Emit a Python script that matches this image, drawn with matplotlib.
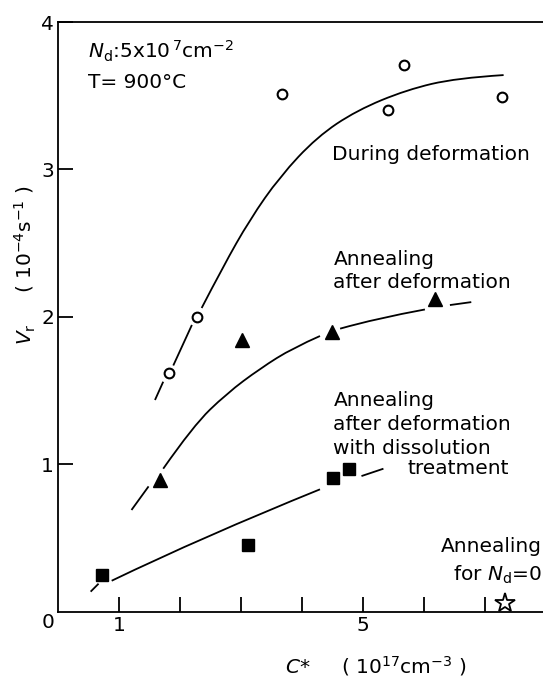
import matplotlib.pyplot as plt
import numpy as np
from matplotlib.path import Path
from matplotlib.patches import PathPatch

nan = np.nan

# measured points
def_x = [1.82, 2.27, 3.66, 5.41, 5.66, 7.28]
def_y = [1.62, 2.00, 3.51, 3.40, 3.71, 3.49]

ann_x = [1.67, 3.01, 4.48, 6.18]
ann_y = [0.89, 1.84, 1.90, 2.12]

dis_x = [0.72, 3.11, 4.51, 4.77]
dis_y = [0.25, 0.45, 0.91, 0.97]

nd0_x = [7.33]
nd0_y = [0.06]

# hand drawn guide curves (nan = break in the line near a symbol)
def_cx = [1.585, 1.72, nan, 1.885, 2.19, nan, 2.35, 2.70, 3.14, 3.63, 4.24, 4.89, 5.71, 6.53, 7.30]
def_cy = [1.436, 1.56, nan, 1.67, 1.945, nan, 2.06, 2.34, 2.66, 2.95, 3.22, 3.40, 3.54, 3.62, 3.64]

ann_cx = [1.20, 1.48, nan, 1.72, 2.21, 2.76, 3.31, 3.85, 4.29, nan, 4.62, 5.22, 6.01, nan, 6.42, 6.77]
ann_cy = [0.69, 0.85, nan, 0.97, 1.26, 1.48, 1.65, 1.79, 1.87, nan, 1.92, 1.99, 2.05, nan, 2.08, 2.10]

dis_cx = [0.53, 0.66, nan, 0.875, 2.38, 4.29, nan, 4.97, 5.33]
dis_cy = [0.136, 0.19, nan, 0.21, 0.51, 0.83, nan, 0.92, 0.97]


def smooth_curve(ax, xs, ys, lw):
    # split at nan, draw every piece as a quadratic bezier path
    pts = np.column_stack([xs, ys])
    pieces = np.split(pts, np.where(np.isnan(pts[:, 0]))[0])
    for p in pieces:
        p = p[~np.isnan(p[:, 0])]
        if len(p) < 3:
            verts = list(p)
            codes = [Path.MOVETO] + [Path.LINETO] * (len(p) - 1)
        else:
            verts = [p[0]]
            codes = [Path.MOVETO]
            for i in range(1, len(p) - 1):
                end = p[i + 1] if i == len(p) - 2 else (p[i] + p[i + 1]) / 2
                verts += [p[i], end]
                codes += [Path.CURVE3, Path.CURVE3]
        ax.add_patch(PathPatch(Path(verts, codes), fill=False, lw=lw,
                               edgecolor="black", capstyle="butt", zorder=1))


plt.rcParams['font.family'] = 'DejaVu Sans'
fs = 14.5

fig = plt.figure(figsize=(5.43, 6.77), dpi=100)
ax = fig.add_axes([58.3 / 543, 1 - 611.7 / 677, 1 - 58.3 / 543, (611.7 - 22) / 677])

lw = 1.3
smooth_curve(ax, def_cx, def_cy, lw)
smooth_curve(ax, ann_cx, ann_cy, lw)
smooth_curve(ax, dis_cx, dis_cy, lw)

ax.plot(def_x, def_y, "o", ms=7, mfc="white", mec="black", mew=1.5, zorder=3)
ax.plot(ann_x, ann_y, "^", ms=10, color="black", zorder=3)
ax.plot(dis_x, dis_y, "s", ms=8, color="black", zorder=3)
ax.plot(nd0_x, nd0_y, "*", ms=15, mfc="white", mec="black", mew=1.3, zorder=3, clip_on=False)

ax.set_xlim(0, (543 - 58.3) / 61.0)
ax.set_ylim(0, 4)
ax.spines["right"].set_visible(False)
for s in ["left", "bottom", "top"]:
    ax.spines[s].set_linewidth(1.3)

ax.set_xticks([1, 2, 3, 4, 5, 6, 7])
ax.set_xticklabels(["1", "", "", "", "5", "", ""])
ax.set_yticks([1, 2, 3, 4])
ax.set_yticklabels(["1", "2", "3", "4"])
ax.tick_params(direction="in", length=11, width=1.3, labelsize=fs, pad=3)
ax.tick_params(axis="y", right=False)

ax.text(-0.17, -0.075, "0", fontsize=fs, ha="center", va="center")

ax.text(0.49, 3.80, r"$N_\mathrm{d}$:5x10$^{\,7}$cm$^{-2}$", fontsize=fs, va="center")
ax.text(0.49, 3.59, "T= 900°C", fontsize=fs, va="center")
ax.text(4.49, 3.10, "During deformation", fontsize=fs, va="center")
ax.text(4.51, 2.39, "Annealing", fontsize=fs, va="center")
ax.text(4.51, 2.23, "after deformation", fontsize=fs, va="center")
ax.text(4.51, 1.43, "Annealing", fontsize=fs, va="center")
ax.text(4.51, 1.27, "after deformation", fontsize=fs, va="center")
ax.text(4.51, 1.11, "with dissolution", fontsize=fs, va="center")
ax.text(5.72, 0.97, "treatment", fontsize=fs, va="center")
ax.text(7.93, 0.44, "Annealing", fontsize=fs, va="center", ha="right")
ax.text(7.93, 0.25, r"for $N_\mathrm{d}$=0", fontsize=fs, va="center", ha="right")

fig.text(25 / 543, 1 - 265 / 677, r"$V_\mathrm{r}$     ( 10$^{-4}$s$^{-1}$ )",
         fontsize=fs, rotation=90, ha="center", va="center")
fig.text(376 / 543, 1 - 666 / 677, r"$C$*     ( 10$^{17}$cm$^{-3}$ )",
         fontsize=fs, ha="center", va="center")

fig.savefig("out.png", dpi=100)
